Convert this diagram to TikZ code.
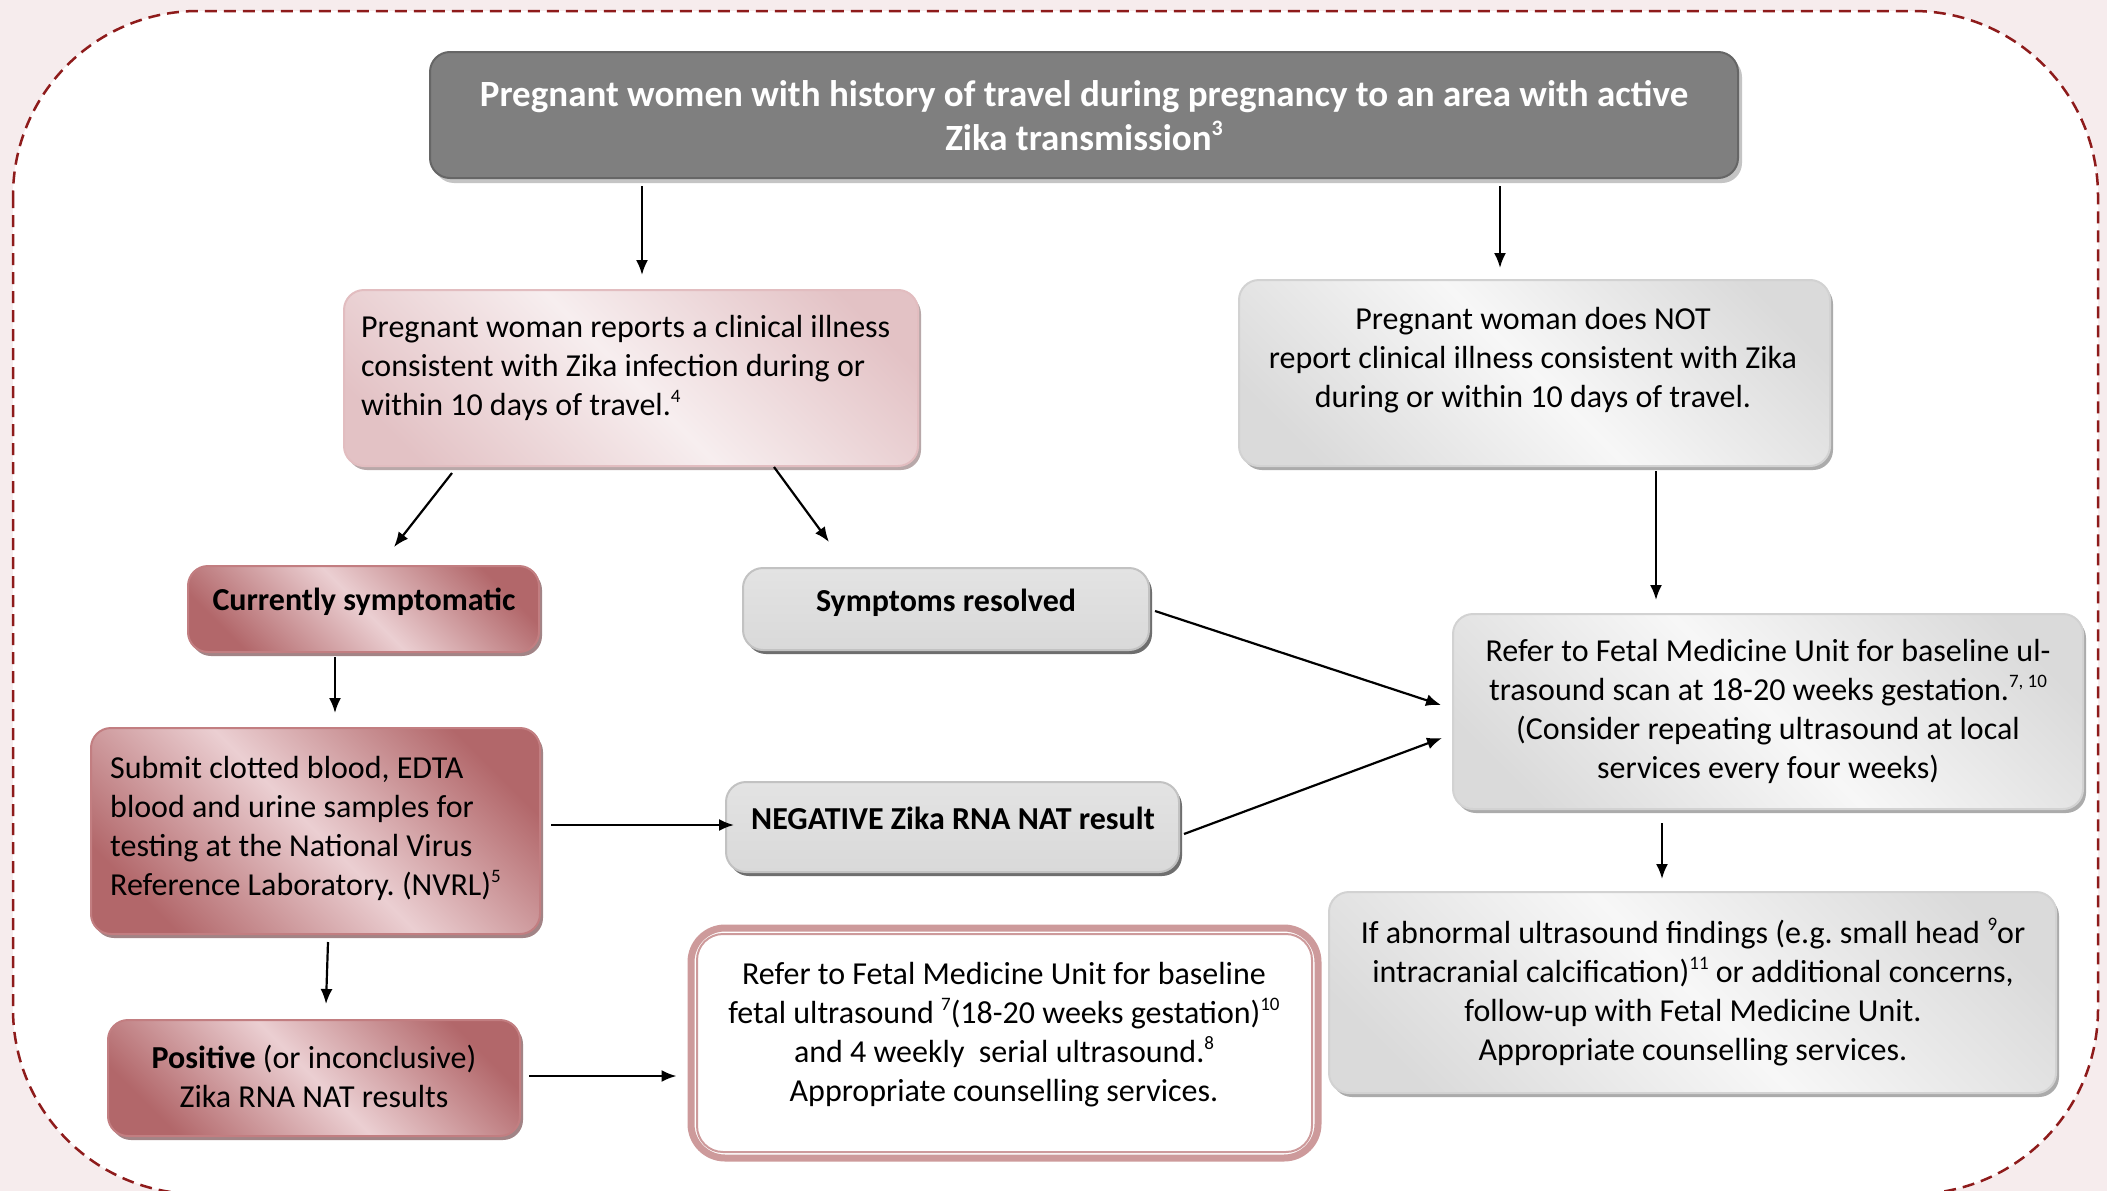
\documentclass[tikz,border=0pt]{standalone}
\usepackage{fontspec}
\setmainfont{Carlito}
\usetikzlibrary{arrows.meta,calc,shadows}

\definecolor{bgpink}{HTML}{F6ECED}
\definecolor{dashred}{HTML}{8E1B1B}
\definecolor{topfill}{HTML}{7F7F7F}
\definecolor{topborder}{HTML}{666666}
\definecolor{topshadow}{HTML}{C4C4C4}
\definecolor{pkAdark}{HTML}{E3C2C5}
\definecolor{pkAlight}{HTML}{F7EEEF}
\definecolor{pkAborder}{HTML}{E2BDC0}
\definecolor{pkAshadow}{HTML}{B8A8A9}
\definecolor{pkDdark}{HTML}{B2676A}
\definecolor{pkDlight}{HTML}{EBCFD2}
\definecolor{pkDborder}{HTML}{C27E81}
\definecolor{pkDshadow}{HTML}{A28486}
\definecolor{gLdark}{HTML}{DADADA}
\definecolor{gLlight}{HTML}{F7F7F7}
\definecolor{gLborder}{HTML}{D2D2D2}
\definecolor{gLshadow}{HTML}{ABABAB}
\definecolor{gMtop}{HTML}{E3E3E3}
\definecolor{gMmid}{HTML}{C9C9C9}
\definecolor{gMbot}{HTML}{D9D9D9}
\definecolor{gMborder}{HTML}{C2C2C2}
\definecolor{gMshadow}{HTML}{6E6E6E}
\definecolor{wborder}{HTML}{CD9A9B}

\pgfdeclarehorizontalshading{pinklightdiag}{100bp}{color(0bp)=(pkAdark); color(22bp)=(pkAdark); color(50bp)=(pkAlight); color(78bp)=(pkAdark); color(100bp)=(pkAdark)}
\pgfdeclarehorizontalshading{pinkdarkdiag}{100bp}{color(0bp)=(pkDdark); color(24bp)=(pkDdark); color(50bp)=(pkDlight); color(76bp)=(pkDdark); color(100bp)=(pkDdark)}
\pgfdeclarehorizontalshading{graylightdiag}{100bp}{color(0bp)=(gLdark); color(22bp)=(gLdark); color(50bp)=(gLlight); color(78bp)=(gLdark); color(100bp)=(gLdark)}

\newcommand\supb[1]{\raisebox{13pt}{\fontsize{19}{19}\selectfont #1}}
\newcommand\supt[1]{\raisebox{15pt}{\fontsize{22}{22}\selectfont #1}}

\begin{document}
\frenchspacing
\begin{tikzpicture}[x=1pt,y=-1pt,
  font=\fontsize{32}{39}\selectfont,
  box/.style={rounded corners=20, line width=2, inner sep=0},
  topbox/.style={box, fill=topfill, draw=topborder,
    general shadow={fill=topshadow, shadow xshift=4pt, shadow yshift=-5pt}},
  pinklight/.style={box, draw=pkAborder, shade, shading=pinklightdiag, shading angle=45,
    general shadow={fill=pkAshadow, shadow xshift=3pt, shadow yshift=-4pt}},
  pinkdark/.style={box, draw=pkDborder, shade, shading=pinkdarkdiag, shading angle=45,
    general shadow={fill=pkDshadow, shadow xshift=3pt, shadow yshift=-4pt}},
  graylight/.style={box, draw=gLborder, shade, shading=graylightdiag, shading angle=45,
    general shadow={fill=gLshadow, shadow xshift=3pt, shadow yshift=-4pt}},
  graymid/.style={box, draw=gMborder, top color=gMtop, middle color=gMmid, bottom color=gMbot,
    general shadow={fill=gMshadow, shadow xshift=3pt, shadow yshift=-4pt}},
  whitebox/.style={rounded corners=34, line width=7, draw=wborder, fill=white, inner sep=0},
  txt/.style={inner sep=0, align=center},
  txtl/.style={inner sep=0, align=left},
  arr/.style={line width=2.2, -{Latex[length=15pt,width=12pt]}}
]
\useasboundingbox (0,0) rectangle (2107,1191);
\fill[bgpink] (0,0) rectangle (2107,1191);
\filldraw[fill=white, draw=dashred, line width=2.5, dash pattern=on 12pt off 7pt, rounded corners=185]
  (13,11) rectangle (2098,1194);

% boxes
\node[topbox, minimum width=1308, minimum height=126] (top) at (1084,115) {};
\node[pinklight, minimum width=574, minimum height=176] (pinkA) at (631,378) {};
\node[graylight, minimum width=591, minimum height=186] (grayA) at (1534.5,373) {};
\node[pinkdark, minimum width=351, minimum height=86] (cur) at (363.5,609) {};
\node[graymid, minimum width=406, minimum height=82] (res) at (946,609) {};
\node[graylight, minimum width=630, minimum height=195] (refer) at (1768,711.5) {};
\node[pinkdark, minimum width=449, minimum height=206] (submit) at (315.5,831) {};
\node[graymid, minimum width=453, minimum height=90] (neg) at (952.5,827) {};
\node[pinkdark, minimum width=412, minimum height=116] (pos) at (314,1078) {};
\node[whitebox, minimum width=627, minimum height=230] (refW) at (1004.5,1043) {};
\draw[wborder, line width=2, rounded corners=26]
  ($(refW.north west)+(9.5,9.5)$) rectangle ($(refW.south east)+(-9.5,-9.5)$);
\node[graylight, minimum width=727, minimum height=201] (abn) at (1692.5,992.5) {};

% texts
\node[txt, text=white, font=\fontsize{37}{44}\selectfont\bfseries] (topT) at (1084,116)
  {Pregnant women with history of travel during pregnancy to an area with active\\Zika transmission\supt{3}};
\node[txtl, anchor=west] (pinkAT) at (361,368)
  {Pregnant woman reports a clinical illness\\consistent with Zika infection during or\\within 10 days of travel.\supb{4}};
\node[txt] (grayAT) at (1533,360)
  {Pregnant woman does NOT\\report clinical illness consistent with Zika\\during or within 10 days of travel.};
\node[txt, font=\fontsize{32}{39}\selectfont\bfseries] (curT) at (364,602) {Currently symptomatic};
\node[txt, font=\fontsize{32}{39}\selectfont\bfseries] (resT) at (946,603) {Symptoms resolved};
\node[txt] (referT) at (1768,711)
  {Refer to Fetal Medicine Unit for baseline ul-\\trasound scan at 18-20 weeks gestation.\supb{7, 10}\\(Consider repeating ultrasound at local\\services every four weeks)};
\node[txtl, anchor=west] (submitT) at (110,828)
  {Submit clotted blood, EDTA\\blood and urine samples for\\testing at the National Virus\\Reference Laboratory. (NVRL)\supb{5}};
\node[txt, font=\fontsize{32}{39}\selectfont\bfseries] (negT) at (953,818) {NEGATIVE Zika RNA NAT result};
\node[txt] (posT) at (314,1076)
  {\textbf{Positive} (or inconclusive)\\Zika RNA NAT results};
\node[txt] (refWT) at (1004,1035)
  {Refer to Fetal Medicine Unit for baseline\\fetal ultrasound \supb{7}(18-20 weeks gestation)\supb{10}\\and 4 weekly\ \ serial ultrasound.\supb{8}\\Appropriate counselling services.};
\node[txt] (abnT) at (1693,992)
  {If abnormal ultrasound findings (e.g. small head \supb{9}or\\intracranial calcification)\supb{11} or additional concerns,\\follow-up with Fetal Medicine Unit.\\Appropriate counselling services.};

% connectors
\draw[arr] ($(top.south)+(-442,7)$) -- ($(pinkA.north)+(11,-14)$);
\draw[arr] ($(top.south)+(416,7)$) -- ($(grayA.north)+(-34.5,-11)$);
\draw[arr] ($(pinkA.south)+(-179,6)$) -- ($(cur.north)+(30.5,-18)$);
\draw[arr] ($(pinkA.south)+(143,0)$) -- ($(res.north)+(-117,-25)$);
\draw[arr] ($(cur.south)+(-28.5,4)$) -- ($(submit.north)+(19.5,-14)$);
\draw[arr] ($(submit.east)+(10,-6)$) -- ($(neg.west)+(9,-2)$);
\draw[arr] ($(submit.south)+(12.5,7)$) -- ($(pos.north)+(12,-15)$);
\draw[arr] ($(pos.east)+(8,-2)$) -- ($(refW.west)+(-11,33)$);
\draw[arr] ($(res.east)+(5,2)$) -- ($(refer.west)+(-11,-6.5)$);
\draw[arr] ($(neg.east)+(4,7)$) -- ($(refer.west)+(-10,26.5)$);
\draw[arr] ($(grayA.south)+(121.5,4)$) -- ($(refer.north)+(-112,-13)$);
\draw[arr] ($(refer.south)+(-106,13)$) -- ($(abn.north)+(-30.5,-12)$);
\end{tikzpicture}
\end{document}
